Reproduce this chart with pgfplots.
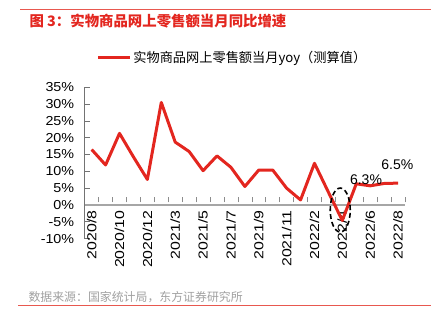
\documentclass[border=0pt]{standalone}
\usepackage{pgfplots}
\pgfplotsset{compat=1.18}
\usepackage{fontspec}
\setmainfont{Liberation Sans}
\newfontfamily\cjk{Noto Sans CJK SC}
\newfontfamily\yfont[FakeStretch=1.1]{Liberation Sans}
\newfontfamily\xfont[FakeStretch=1.22]{Liberation Sans}
\definecolor{dfred}{HTML}{E3261F}
\definecolor{rulered}{HTML}{E8584F}
\definecolor{srcgray}{HTML}{A0A0A0}
\begin{document}
\begin{tikzpicture}[x=1pt,y=1pt]
\useasboundingbox (0,0) rectangle (441,325);
\draw[rulered, line width=0.8pt] (20,315.7) -- (431,315.7);
\node[anchor=west, inner sep=0pt, text=dfred, font=\cjk\bfseries\fontsize{14.4}{16}\selectfont] at (29.3,304.3) {图 3：实物商品网上零售额当月同比增速};
\node[anchor=west, inner sep=0pt, text=srcgray, font=\cjk\fontsize{11.9}{14}\selectfont] at (28.3,28.3) {数据来源：国家统计局，东方证券研究所};
\draw[rulered, line width=0.8pt] (18,20) -- (431,20);
\begin{axis}[
  at={(84.7pt,86.4pt)}, anchor=south west,
  scale only axis, width=320.3pt, height=151.3pt,
  xmin=-0.5, xmax=22.5, ymin=-10, ymax=35,
  axis y line*=left, axis x line*=middle,
  y axis line style={draw=black!55, line width=0.6pt},
  x axis line style={draw=black!35, line width=1.2pt},
  ytick={-10,-5,...,35},
  yticklabels={-10\%,-5\%,0\%,5\%,10\%,15\%,20\%,25\%,30\%,35\%},
  yticklabel style={font=\yfont\fontsize{13}{15}\selectfont, xshift=-7pt},
  ytick style={draw=black!55, line width=0.6pt},
  ytick align=inside, major tick length=5pt,
  xtick={0,2,...,22},
  xticklabels={2020/8,2020/10,2020/12,2021/3,2021/5,2021/7,2021/9,2021/11,2022/2,2022/4,2022/6,2022/8},
  xticklabel style={font=\xfont\fontsize{13}{15}\selectfont, rotate=90, anchor=east, xshift=-2pt},
  xtick style={draw=none},
  minor xtick={-0.5,0.5,...,22.5},
  minor x tick style={draw=black!45, line width=0.6pt, yshift=2.5pt},
  minor tick length=5pt,
  clip=false,
  legend style={at={(axis description cs:0.037,1.198)}, anchor=west, draw=none, fill=none, inner sep=0pt, font=\cjk\fontsize{13.2}{16}\selectfont},
  legend image code/.code={\draw[#1, line width=3pt] (0pt,0pt) -- (31.6pt,0pt);},
]
\addplot[dfred, line width=3pt, line join=round] coordinates {
(0,16.5) (1,11.9) (2,21.3) (3,14.3) (4,7.6) (5,30.5) (6,18.7) (7,15.9) (8,10.2) (9,14.6) (10,11.2) (11,5.5) (12,10.4) (13,10.4) (14,5.0) (15,1.5) (16,12.4) (17,3.8) (18,-4.6) (19,6.3) (20,5.7) (21,6.4) (22,6.5)
};
\addlegendentry{实物商品网上零售额当月yoy（测算值）}
\node[font=\fontsize{14}{16}\selectfont, inner sep=0pt] at (axis cs:19.7,7.4) {6.3\%};
\node[font=\fontsize{14}{16}\selectfont, inner sep=0pt] at (axis cs:21.95,11.9) {6.5\%};
\draw[black, line width=1.6pt, dash pattern=on 5pt off 3pt] (axis cs:17.85,-1.5) ellipse [x radius=10pt, y radius=22pt];
\end{axis}
\end{tikzpicture}
\end{document}
